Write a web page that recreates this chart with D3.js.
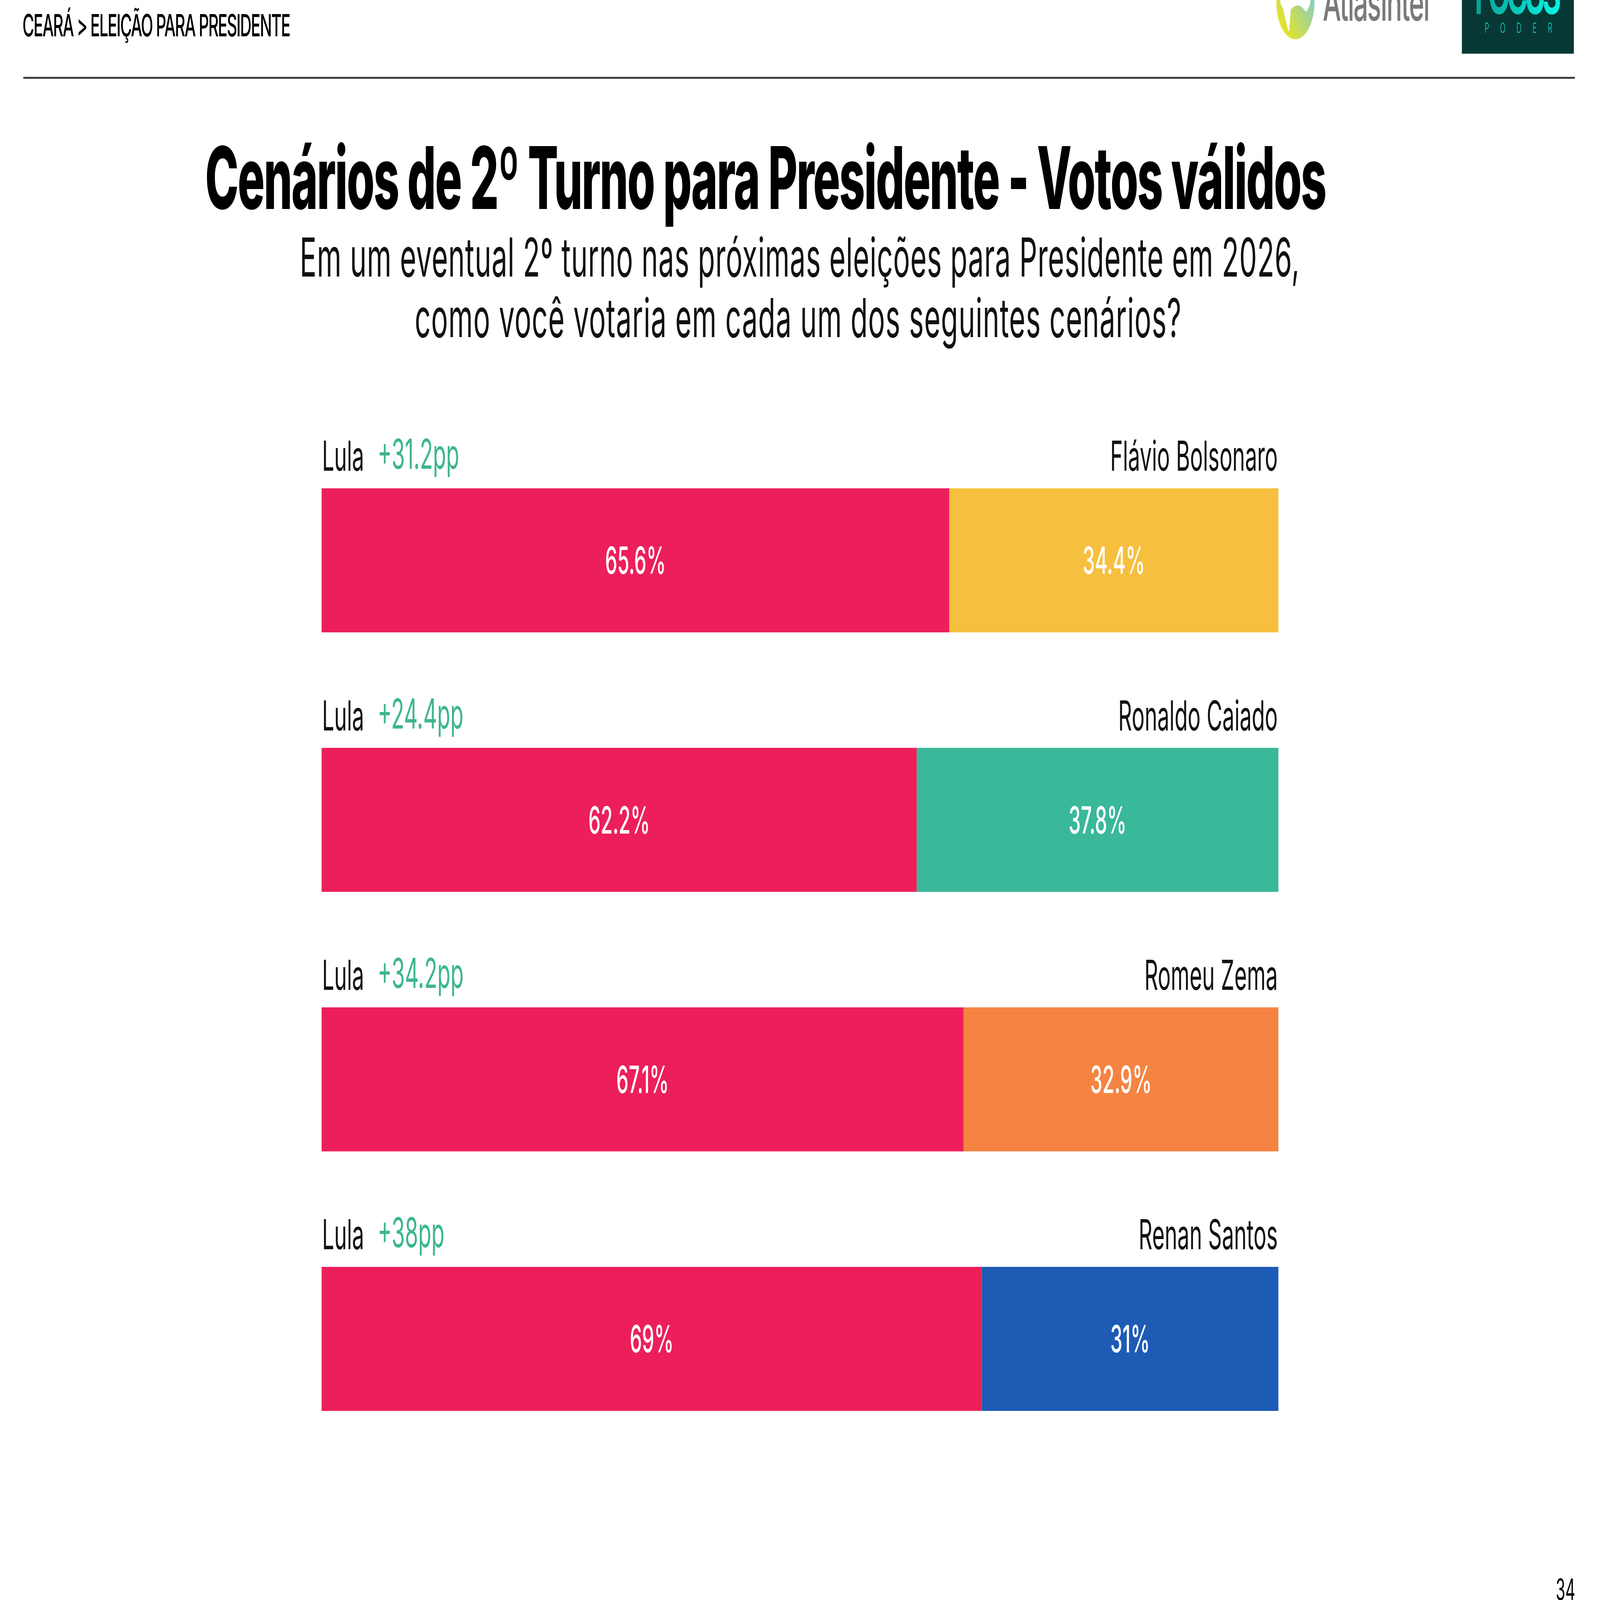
<!DOCTYPE html>
<html>
<head>
<meta charset="utf-8">
<script src="https://cdn.jsdelivr.net/npm/d3@7"></script>
<style>
  html, body { margin: 0; padding: 0; background: #fff; overflow: hidden; }
  svg { display: block; width: 100vw; height: 100vh; font-family: Inter, "Noto Sans", sans-serif; }
</style>
</head>
<body>
<div class="chart"></div>
<script>
// data
var opponents = ["Flávio Bolsonaro", "Ronaldo Caiado", "Romeu Zema", "Renan Santos"];
var lulaValues = [65.6, 62.2, 67.1, 69];
var oppValues = [34.4, 37.8, 32.9, 31];
var margins = ["+31.2pp", "+24.4pp", "+34.2pp", "+38pp"];
var oppColors = ["#F7BF3E", "#3AB89A", "#F58443", "#1D5BB5"];
var lulaColor = "#EC1F5B";

var width = 7890, height = 4112;

// the slide is laid out in a 7890 x 4112 box and stretched over the whole window
var svg = d3.select(".chart")
    .append("svg")
    .attr("viewBox", [0, 0, width, height])
    .attr("preserveAspectRatio", "none");

svg.append("rect").attr("width", width).attr("height", height).attr("fill", "#fff");

// squeeze / stretch a text to a width by changing letter spacing
function fitText(sel, target) {
  var node = sel.node();
  var n = sel.text().length;
  var w = node.getComputedTextLength();
  sel.attr("letter-spacing", (target - w) / (n - 1));
}

// header
var head = svg.append("text").attr("x", 111).attr("y", 93)
    .style("font-size", "79px").style("font-weight", 500).attr("fill", "#000")
    .text("CEARÁ > ELEIÇÃO PARA PRESIDENTE");
fitText(head, 1322);

svg.append("line")
    .attr("x1", 115).attr("x2", 7766).attr("y1", 200).attr("y2", 200)
    .attr("stroke", "#3a3a3a").attr("stroke-width", 5);

// logos (top right, cut by the page edge)
var defs = svg.append("defs");
var g1 = defs.append("linearGradient").attr("id", "atlasGrad")
    .attr("x1", "0%").attr("y1", "100%").attr("x2", "100%").attr("y2", "0%");
g1.append("stop").attr("offset", "0%").attr("stop-color", "#FFE800");
g1.append("stop").attr("offset", "55%").attr("stop-color", "#A8D68A");
g1.append("stop").attr("offset", "100%").attr("stop-color", "#5CCBF5");
var g2 = defs.append("linearGradient").attr("id", "focusGrad")
    .attr("x1", "0%").attr("y1", "0%").attr("x2", "100%").attr("y2", "0%");
g2.append("stop").attr("offset", "0%").attr("stop-color", "#0B9E92");
g2.append("stop").attr("offset", "100%").attr("stop-color", "#05F5E8");

svg.append("ellipse").attr("cx", 6388).attr("cy", 5).attr("rx", 94).attr("ry", 96)
    .attr("fill", "url(#atlasGrad)");
svg.append("path")
    .attr("d", "M6313,-20 L6313,0 C6313,12 6322,16 6328,24 L6348,70 C6352,76 6352,80 6355,80 C6358,80 6358,74 6360,60 L6365,25 C6380,15 6400,10 6420,18 L6440,30 C6455,22 6462,10 6462,0 L6462,-20 Z")
    .attr("fill", "#fff");
var atlas = svg.append("text").attr("x", 6523).attr("y", 53)
    .style("font-size", "128px").style("font-weight", 500).attr("fill", "#7A7A7A")
    .text("AtlasIntel");
fitText(atlas, 528);

svg.append("rect").attr("x", 7209).attr("y", 0).attr("width", 552).attr("height", 138)
    .attr("fill", "#073835");
var focus = svg.append("text").attr("x", 7272).attr("y", 36)
    .style("font-size", "140px").style("font-weight", 700).attr("fill", "url(#focusGrad)")
    .text("FOCUS");
fitText(focus, 426);
var poder = svg.append("text").attr("x", 7321).attr("y", 84)
    .style("font-size", "36px").style("font-weight", 300).attr("fill", "#17CDBE")
    .text("PODER");
fitText(poder, 334);

// title + question
var title = svg.append("text").attr("x", 1012).attr("y", 537)
    .style("font-size", "222px").style("font-weight", 800).attr("fill", "#000")
    .text("Cenários de 2º Turno para Presidente - Votos válidos");
fitText(title, 5530);

var sub1 = svg.append("text").attr("x", 1478).attr("y", 711)
    .style("font-size", "138px").style("font-weight", 400).attr("fill", "#111")
    .text("Em um eventual 2º turno nas próximas eleições para Presidente em 2026,");
fitText(sub1, 4930);
var sub2 = svg.append("text").attr("x", 2045).attr("y", 866)
    .style("font-size", "138px").style("font-weight", 400).attr("fill", "#111")
    .text("como você votaria em cada um dos seguintes cenários?");
fitText(sub2, 3780);

// scales
var x = d3.scaleLinear().domain([0, 100]).range([1586, 6304]);
var y = d3.scaleBand().domain(opponents).range([1255, 3626]).paddingInner(0.445).paddingOuter(0);

var rows = svg.append("g").selectAll("g")
    .data(opponents)
    .join("g");

// Lula segment
rows.append("rect")
    .attr("x", x(0))
    .attr("y", function(d) { return y(d); })
    .attr("width", function(d, i) { return x(lulaValues[i]) - x(0); })
    .attr("height", y.bandwidth())
    .attr("fill", lulaColor);

// opponent segment
rows.append("rect")
    .attr("x", function(d, i) { return x(lulaValues[i]); })
    .attr("y", function(d) { return y(d); })
    .attr("width", function(d, i) { return x(lulaValues[i] + oppValues[i]) - x(lulaValues[i]); })
    .attr("height", y.bandwidth())
    .attr("fill", function(d, i) { return oppColors[i]; });

// value labels
rows.append("text")
    .attr("x", function(d, i) { return x(lulaValues[i] / 2); })
    .attr("y", function(d) { return y(d) + y.bandwidth() / 2 + 35; })
    .attr("text-anchor", "middle")
    .style("font-size", "96px").style("font-weight", 500).attr("fill", "#fff")
    .text(function(d, i) { return lulaValues[i] + "%"; });

rows.append("text")
    .attr("x", function(d, i) { return x(lulaValues[i] + oppValues[i] / 2); })
    .attr("y", function(d) { return y(d) + y.bandwidth() / 2 + 35; })
    .attr("text-anchor", "middle")
    .style("font-size", "96px").style("font-weight", 500).attr("fill", "#fff")
    .text(function(d, i) { return oppValues[i] + "%"; });

// names above bars
rows.append("text")
    .attr("x", x(0) + 2)
    .attr("y", function(d) { return y(d) - 45; })
    .style("font-size", "106px").attr("fill", "#111")
    .text("Lula");

rows.append("text")
    .attr("x", x(0) + 276)
    .attr("y", function(d) { return y(d) - 50; })
    .style("font-size", "106px").attr("fill", "#3DB591")
    .text(function(d, i) { return margins[i]; });

rows.append("text")
    .attr("x", x(100) - 3)
    .attr("y", function(d) { return y(d) - 45; })
    .attr("text-anchor", "end")
    .style("font-size", "106px").attr("fill", "#111")
    .text(function(d) { return d; });

// page number
svg.append("text").attr("x", 7768).attr("y", 4112)
    .attr("text-anchor", "end")
    .style("font-size", "76px").attr("fill", "#000")
    .text("34");
</script>
</body>
</html>
